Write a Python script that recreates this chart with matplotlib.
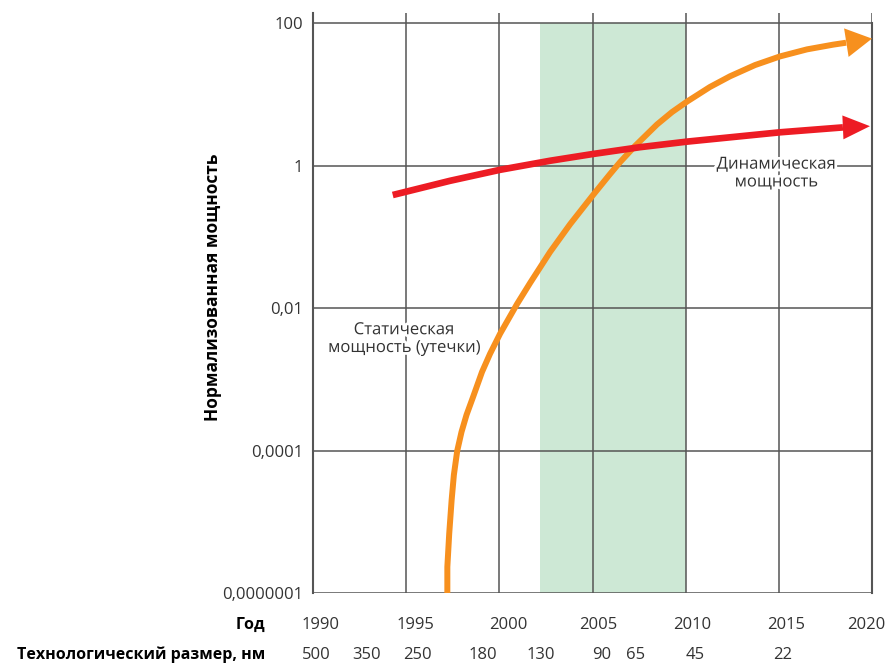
import numpy as np
import matplotlib.pyplot as plt
import matplotlib.patheffects as pe

plt.rcParams['font.family'] = ['Open Sans', 'DejaVu Sans']

# data
years = [1990, 1995, 2000, 2005, 2010, 2015, 2020]
year_label_pos = [1990.4, 1995.5, 2000.5, 2005.3, 2010.35, 2015.4, 2019.7]
power_ticks = [1e-7, 1e-4, 1e-2, 1, 100]
power_labels = ['0,0000001', '0,0001', '0,01', '1', '100']

node_years = [1990.2, 1992.9, 1995.6, 1999.1, 2002.2, 2005.5, 2007.3, 2010.5, 2015.2]
node_labels = ['500', '350', '250', '180', '130', '90', '65', '45', '22']

band_start, band_end = 2002.2, 2010

static_years = [1997.21, 1997.21, 1997.31, 1997.44, 1997.56, 1997.74, 1997.97,
                1998.24, 1998.59, 1999.07, 1999.50, 2000.04, 2000.95, 2001.65,
                2002.72, 2003.80, 2005.03, 2005.94, 2006.48, 2007.28, 2008.46,
                2009.27, 2010.07, 2011.30, 2012.38, 2013.72, 2015.06, 2016.51,
                2017.91, 2018.61, 2020.0]
static_power = [1e-7, 3.6e-7, 1.8e-6, 9.2e-6, 3.1e-5, 1e-4, 1.84e-4,
                3.2e-4, 5.7e-4, 1.28e-3, 2.3e-3, 4.4e-3, 1.15e-2, 0.0227,
                0.0617, 0.152, 0.39, 0.767, 1.13, 1.90, 3.81,
                5.70, 7.98, 12.8, 18.1, 26.0, 34.4, 43.2,
                50.3, 53.6, 61.2]

dynamic_years = [1994.28, 1997.35, 2000.03, 2002.72, 2005.03, 2007.55, 2010.07,
                 2015.06, 2018.44, 2019.89]
dynamic_power = [0.39, 0.617, 0.88, 1.18, 1.47, 1.83, 2.19, 2.96, 3.47, 3.61]

ORANGE = '#F7901E'
RED = '#ED1C24'
GREEN = '#CDE8D5'
GRID = '#555555'
TEXT = '#333333'


# the original axis is not a true log scale: 1e-7..1e-4 takes the same room as two decades
def forward(v):
    lg = np.log10(np.clip(np.asarray(v, dtype=float), 1e-12, None))
    return np.where(lg >= -4, (lg + 4) / 2 + 1, (lg + 7) / 3)


def inverse(p):
    p = np.asarray(p, dtype=float)
    return np.where(p >= 1, 10 ** (2 * (p - 1) - 4), 10 ** (3 * p - 7))


fig = plt.figure(figsize=(8.86, 6.64), dpi=100)
ax = fig.add_axes([313 / 886, 1 - 593.3 / 664, (872 - 313) / 886, (593.3 - 13) / 664])
ax.set_yscale('function', functions=(forward, inverse))
ax.set_xlim(1990, 2020)
ax.set_ylim(1e-7, 140)

ax.axvspan(band_start, band_end, ymax=forward(100) / forward(140), color=GREEN, lw=0, zorder=0.1)

ax.set_axisbelow(True)
ax.set_xticks(years)
ax.set_xticklabels([])
ax.set_yticks(power_ticks)
ax.set_yticklabels(power_labels)
ax.grid(True, color=GRID, lw=1.1)
ax.tick_params(axis='both', length=0, labelsize=12, colors=TEXT)
ax.tick_params(axis='y', pad=7)
for side in ['top', 'bottom']:
    ax.spines[side].set_visible(False)
ax.spines['left'].set_color(GRID)
ax.spines['left'].set_linewidth(1.5)
ax.spines['right'].set_color(GRID)
ax.spines['right'].set_linewidth(1.5)
ax.spines['right'].set_bounds(1e-7, 100)

# curves, each ending in an arrowhead
for xs, ys, col, lw, hl, hw in [(static_years, static_power, ORANGE, 4.3, 1.87, 1.04),
                                (dynamic_years, dynamic_power, RED, 4.8, 1.95, 0.86)]:
    ax.plot(xs[:-1], ys[:-1], color=col, lw=lw, solid_capstyle='butt',
            solid_joinstyle='round', zorder=3)
    ax.annotate('', xy=(xs[-1], ys[-1]), xytext=(xs[-2], ys[-2]),
                arrowprops=dict(arrowstyle=f'-|>,head_length={hl},head_width={hw}',
                                mutation_scale=10, color=col, lw=0,
                                shrinkA=0, shrinkB=0),
                zorder=4, annotation_clip=False)

halo = [pe.withStroke(linewidth=4, foreground='white')]
ax.text(1994.88, 3.7e-3, 'Статическая\nмощность (утечки)', ha='center', va='center',
        fontsize=12, color=TEXT, linespacing=1.15, path_effects=halo, zorder=5)
ax.text(2014.85, 0.78, 'Динамическая\nмощность', ha='center', va='center',
        fontsize=12, color=TEXT, linespacing=1.15, path_effects=halo, zorder=5)

fig.text(213 / 886, 1 - 287 / 664, 'Нормализованная мощность', rotation=90,
         ha='center', va='center', fontsize=12.5, fontweight='bold', color='black')

xt = ax.get_xaxis_transform()
ax.text(-0.085, -0.055, 'Год', transform=ax.transAxes, ha='right', va='center',
        fontsize=11.5, fontweight='bold', color='black')
ax.text(-0.085, -0.106, 'Технологический размер, нм', transform=ax.transAxes,
        ha='right', va='center', fontsize=11.5, fontweight='bold', color='black')
for x, lab in zip(year_label_pos, years):
    ax.text(x, -0.055, str(lab), transform=xt, ha='center', va='center',
            fontsize=12, color=TEXT)
for x, lab in zip(node_years, node_labels):
    ax.text(x, -0.106, lab, transform=xt, ha='center', va='center',
            fontsize=12, color=TEXT)

fig.savefig('out.png', dpi=100)
